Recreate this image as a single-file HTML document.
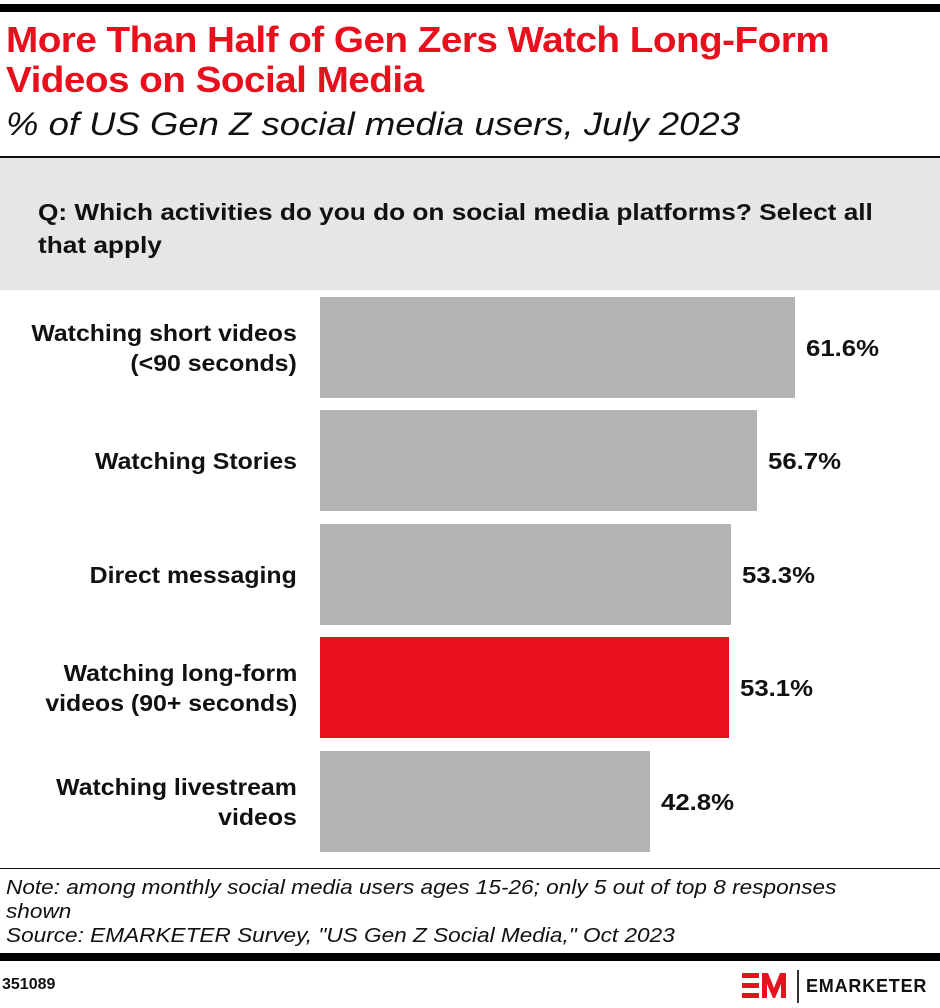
<!DOCTYPE html>
<html><head><style>
body{margin:0;width:940px;height:1008px;background:#fff;position:relative;font-family:"Liberation Sans",sans-serif;overflow:hidden}
.a{position:absolute;white-space:nowrap}
.t{left:6px;color:#e8101c;font-weight:bold;font-size:36px;letter-spacing:-0.5px;line-height:40px;transform:scaleX(1.075);transform-origin:left top}
.lab{right:643px;text-align:right;font-weight:bold;font-size:23px;line-height:30px;color:#111;transform:scaleX(1.08);transform-origin:right top}
.bar{left:320px;height:101px;background:#b3b3b3}
.v{font-weight:bold;font-size:23px;color:#111;transform:scaleX(1.12);transform-origin:left top}
.n{left:6px;font-style:italic;font-size:20px;color:#111;line-height:24px;transform:scaleX(1.13);transform-origin:left top}
</style></head><body>
<div class="a" style="left:0;top:4px;width:940px;height:8px;background:#000"></div>
<div class="a t" style="top:20px">More Than Half of Gen Zers Watch Long-Form<br>Videos on Social Media</div>
<div class="a" style="left:6px;top:106px;font-style:italic;font-size:32px;color:#111;transform:scaleX(1.14);transform-origin:left top">% of US Gen Z social media users, July 2023</div>
<div class="a" style="left:0;top:156px;width:940px;height:2px;background:#111"></div>
<div class="a" style="left:0;top:158px;width:940px;height:132px;background:#e6e6e6"></div>
<div class="a" style="left:38px;top:196px;font-weight:bold;font-size:23px;line-height:33px;color:#111;transform:scaleX(1.14);transform-origin:left top">Q: Which activities do you do on social media platforms? Select all<br>that apply</div>

<div class="a bar" style="top:297px;width:475px"></div>
<div class="a bar" style="top:410px;width:437px"></div>
<div class="a bar" style="top:524px;width:411px"></div>
<div class="a bar" style="top:637px;width:409px;background:#e8101c"></div>
<div class="a bar" style="top:751px;width:330px"></div>

<div class="a lab" style="top:318px">Watching short videos<br>(&lt;90 seconds)</div>
<div class="a lab" style="top:446px">Watching Stories</div>
<div class="a lab" style="top:560px">Direct messaging</div>
<div class="a lab" style="top:658px">Watching long-form<br>videos (90+ seconds)</div>
<div class="a lab" style="top:772px">Watching livestream<br>videos</div>

<div class="a v" style="left:806px;top:335px">61.6%</div>
<div class="a v" style="left:768px;top:448px">56.7%</div>
<div class="a v" style="left:742px;top:562px">53.3%</div>
<div class="a v" style="left:740px;top:675px">53.1%</div>
<div class="a v" style="left:661px;top:789px">42.8%</div>

<div class="a" style="left:0;top:868px;width:940px;height:1px;background:#111"></div>
<div class="a n" style="top:876px">Note: among monthly social media users ages 15-26; only 5 out of top 8 responses<br>shown<br>Source: EMARKETER Survey, "US Gen Z Social Media," Oct 2023</div>
<div class="a" style="left:0;top:953px;width:940px;height:8px;background:#000"></div>
<div class="a" style="left:2px;top:976px;font-weight:bold;font-size:16px;color:#111">351089</div>
<svg class="a" style="left:742px;top:970px" width="50" height="32">
<rect x="0" y="3" width="17" height="5" fill="#e8101c"/><rect x="0" y="13" width="17" height="5" fill="#e8101c"/><rect x="0" y="23" width="17" height="5" fill="#e8101c"/>
<polygon points="20,3 26,3 32,18 38,3 44,3 44,28 39,28 39,14 33,28 31,28 25,14 25,28 20,28" fill="#e8101c"/>
</svg>
<div class="a" style="left:797px;top:970px;width:2px;height:33px;background:#333"></div>
<div class="a" style="left:806px;top:976px;font-weight:bold;font-size:18px;letter-spacing:0.8px;color:#111">EMARKETER</div>
</body></html>
